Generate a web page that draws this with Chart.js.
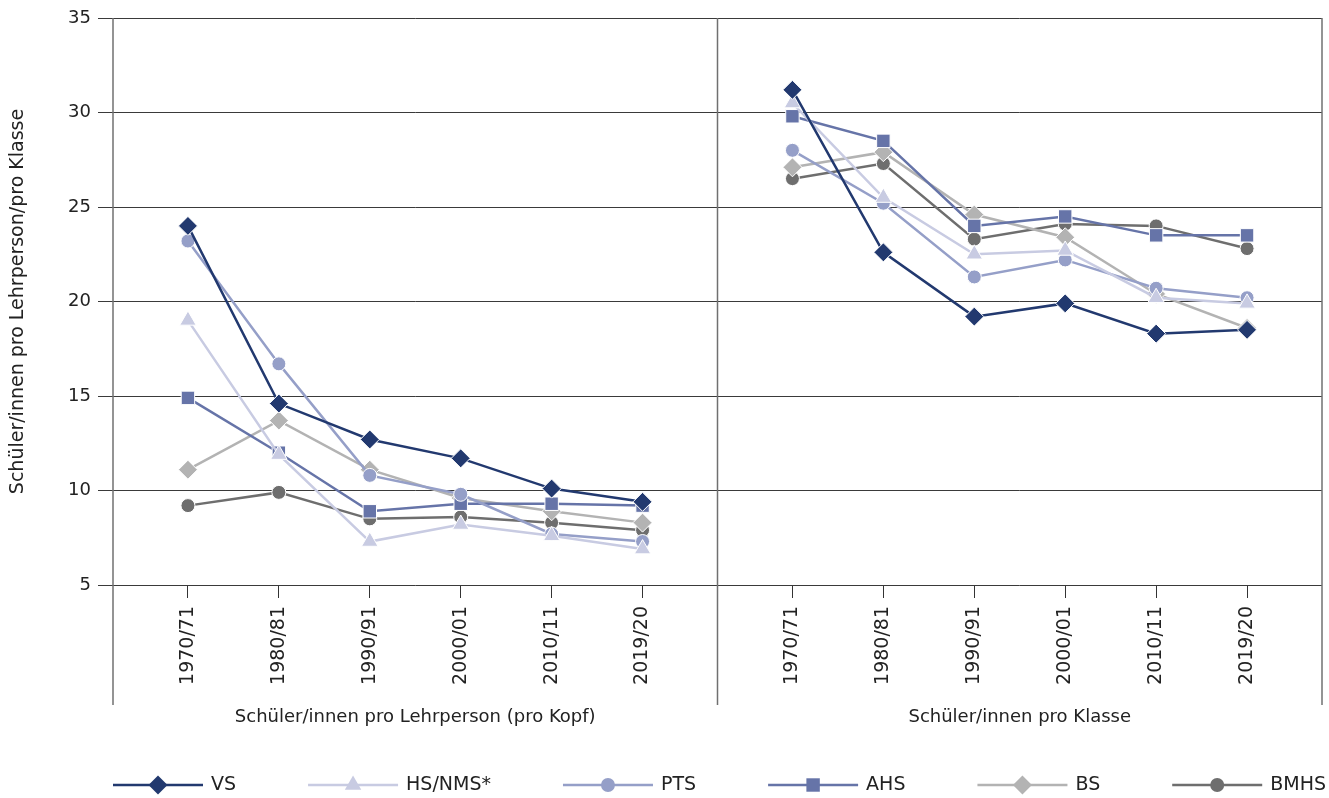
<!DOCTYPE html>
<html lang="de">
<head>
  <meta charset="UTF-8" />
  <title>Schüler/innen pro Lehrperson und pro Klasse</title>
  <script src="https://cdn.jsdelivr.net/npm/chart.js"></script>
  <style>
    html, body { margin: 0; padding: 0; background: #fff; }
    #wrap { width: 1329px; height: 798px; }
  </style>
</head>
<body>
  <div id="wrap"><canvas id="chart" width="1329" height="798"></canvas></div>

  <script>
    // categories and groups
    const categories = ["1970/71", "1980/81", "1990/91", "2000/01", "2010/11", "2019/20"];
    const groups = ["Schüler/innen pro Lehrperson (pro Kopf)", "Schüler/innen pro Klasse"];
    const yTicks = [5, 10, 15, 20, 25, 30, 35];

    // first 6 values: per teacher, last 6: per class
    const vs   = [24.0, 14.6, 12.7, 11.7, 10.1, 9.4,  31.2, 22.6, 19.2, 19.9, 18.3, 18.5];
    const hs   = [19.0, 11.9, 7.3, 8.2, 7.6, 6.9,     30.5, 25.5, 22.5, 22.7, 20.2, 19.9];
    const pts  = [23.2, 16.7, 10.8, 9.8, 7.7, 7.3,    28.0, 25.2, 21.3, 22.2, 20.7, 20.2];
    const ahs  = [14.9, 12.0, 8.9, 9.3, 9.3, 9.2,     29.8, 28.5, 24.0, 24.5, 23.5, 23.5];
    const bs   = [11.1, 13.7, 11.1, 9.6, 8.9, 8.3,    27.1, 27.9, 24.6, 23.4, 20.4, 18.6];
    const bmhs = [9.2, 9.9, 8.5, 8.6, 8.3, 7.9,       26.5, 27.3, 23.3, 24.1, 24.0, 22.8];

    const FONT = "'DejaVu Sans', sans-serif";
    const TEXT = "#222";

    // x layout: each group has an edge margin of 75/91 of one step
    const EDGE = 75 / 91;
    const GROUP_W = 5 + 2 * EDGE;
    function xPos(g, i) { return g * GROUP_W + i; }
    const tickPos = [];
    groups.forEach((g, gi) => categories.forEach((c, i) => tickPos.push(xPos(gi, i))));
    const separator = 5 + EDGE;

    function toPoints(arr) {
      const pts = [];
      groups.forEach((g, gi) => {
        categories.forEach((c, i) => pts.push({ x: xPos(gi, i), y: arr[gi * 6 + i] }));
        if (gi === 0) pts.push({ x: separator, y: null });
      });
      return pts;
    }

    function series(label, arr, color, style, radius) {
      return {
        label: label,
        data: toPoints(arr),
        borderColor: color,
        backgroundColor: color,
        borderWidth: 2.5,
        pointStyle: style,
        pointRadius: radius,
        pointBackgroundColor: color,
        pointBorderColor: "#fff",
        pointBorderWidth: 1,
        spanGaps: false,
        tension: 0
      };
    }

    function drawMarker(ctx, style, x, y, r) {
      ctx.beginPath();
      if (style === "circle") {
        ctx.arc(x, y, r, 0, Math.PI * 2);
      } else if (style === "rectRot") {
        ctx.moveTo(x, y - r); ctx.lineTo(x + r, y); ctx.lineTo(x, y + r); ctx.lineTo(x - r, y);
      } else if (style === "rect") {
        const s = r * Math.SQRT1_2;
        ctx.rect(x - s, y - s, 2 * s, 2 * s);
      } else if (style === "triangle") {
        ctx.moveTo(x, y - r);
        ctx.lineTo(x + r * Math.sin(Math.PI / 3), y + r / 2);
        ctx.lineTo(x - r * Math.sin(Math.PI / 3), y + r / 2);
      }
      ctx.closePath();
      ctx.fill();
    }

    const decor = {
      id: "decor",
      beforeDatasetsDraw(chart) {
        const ctx = chart.ctx;
        const a = chart.chartArea;
        const xs = chart.scales.x;
        ctx.save();
        ctx.strokeStyle = "#707070";
        ctx.lineWidth = 1.5;
        [a.left, xs.getPixelForValue(separator), a.right].forEach(px => {
          ctx.beginPath();
          ctx.moveTo(px, a.top);
          ctx.lineTo(px, 705);
          ctx.stroke();
        });
        ctx.restore();
      },
      afterDraw(chart) {
        const ctx = chart.ctx;
        const xs = chart.scales.x;
        ctx.save();
        // group labels
        ctx.fillStyle = TEXT;
        ctx.font = "18px " + FONT;
        ctx.textAlign = "center";
        ctx.textBaseline = "middle";
        groups.forEach((g, gi) => {
          const c = xs.getPixelForValue(xPos(gi, 2.5));
          ctx.fillText(g, c, 717);
        });
        // legend
        let x = 113;
        const y = 785;
        ctx.textAlign = "left";
        ctx.font = "19px " + FONT;
        chart.data.datasets.forEach(ds => {
          ctx.strokeStyle = ds.borderColor;
          ctx.lineWidth = 2.5;
          ctx.beginPath();
          ctx.moveTo(x, y);
          ctx.lineTo(x + 90, y);
          ctx.stroke();
          ctx.fillStyle = ds.borderColor;
          drawMarker(ctx, ds.pointStyle, x + 45, y, ds.pointRadius);
          ctx.fillStyle = TEXT;
          ctx.fillText(ds.label, x + 98, y);
          x += 98 + ctx.measureText(ds.label).width + 72;
        });
        ctx.restore();
      }
    };

    const ctx = document.getElementById("chart").getContext("2d");
    new Chart(ctx, {
      type: "line",
      data: {
        datasets: [
          series("VS", vs, "#22396f", "rectRot", 9.5),
          series("HS/NMS*", hs, "#c8cbe2", "triangle", 9.5),
          series("PTS", pts, "#959fc8", "circle", 7),
          series("AHS", ahs, "#6674a8", "rect", 9.5),
          series("BS", bs, "#b3b3b3", "rectRot", 9.5),
          series("BMHS", bmhs, "#6e6e6e", "circle", 7)
        ]
      },
      options: {
        responsive: false,
        animation: false,
        devicePixelRatio: 1,
        layout: { autoPadding: false, padding: { top: 18, right: 7, left: 0, bottom: 0 } },
        plugins: {
          legend: { display: false },
          tooltip: { enabled: false }
        },
        scales: {
          x: {
            type: "linear",
            min: -EDGE,
            max: 2 * GROUP_W - EDGE,
            afterBuildTicks: s => { s.ticks = tickPos.map(v => ({ value: v })); },
            afterFit: s => { s.height = 213; s.paddingLeft = 0; s.paddingRight = 0; },
            ticks: {
              autoSkip: false,
              minRotation: 90,
              maxRotation: 90,
              padding: 8,
              color: TEXT,
              font: { family: FONT, size: 19 },
              callback: (v, i) => categories[i % categories.length]
            },
            grid: { drawOnChartArea: false, drawTicks: true, tickLength: 13, color: "#333" },
            border: { display: false }
          },
          y: {
            min: yTicks[0],
            max: yTicks[yTicks.length - 1],
            afterBuildTicks: s => { s.ticks = yTicks.map(v => ({ value: v })); },
            afterFit: s => { s.width = 113; },
            ticks: {
              padding: 7,
              color: TEXT,
              font: { family: FONT, size: 18 }
            },
            grid: { color: "#3a3a3a", tickLength: 15 },
            border: { display: false },
            title: {
              display: true,
              text: "Schüler/innen pro Lehrperson/pro Klasse",
              color: TEXT,
              font: { family: FONT, size: 19 },
              padding: { top: 7, bottom: 4 }
            }
          }
        }
      },
      plugins: [decor]
    });
  </script>
</body>
</html>
